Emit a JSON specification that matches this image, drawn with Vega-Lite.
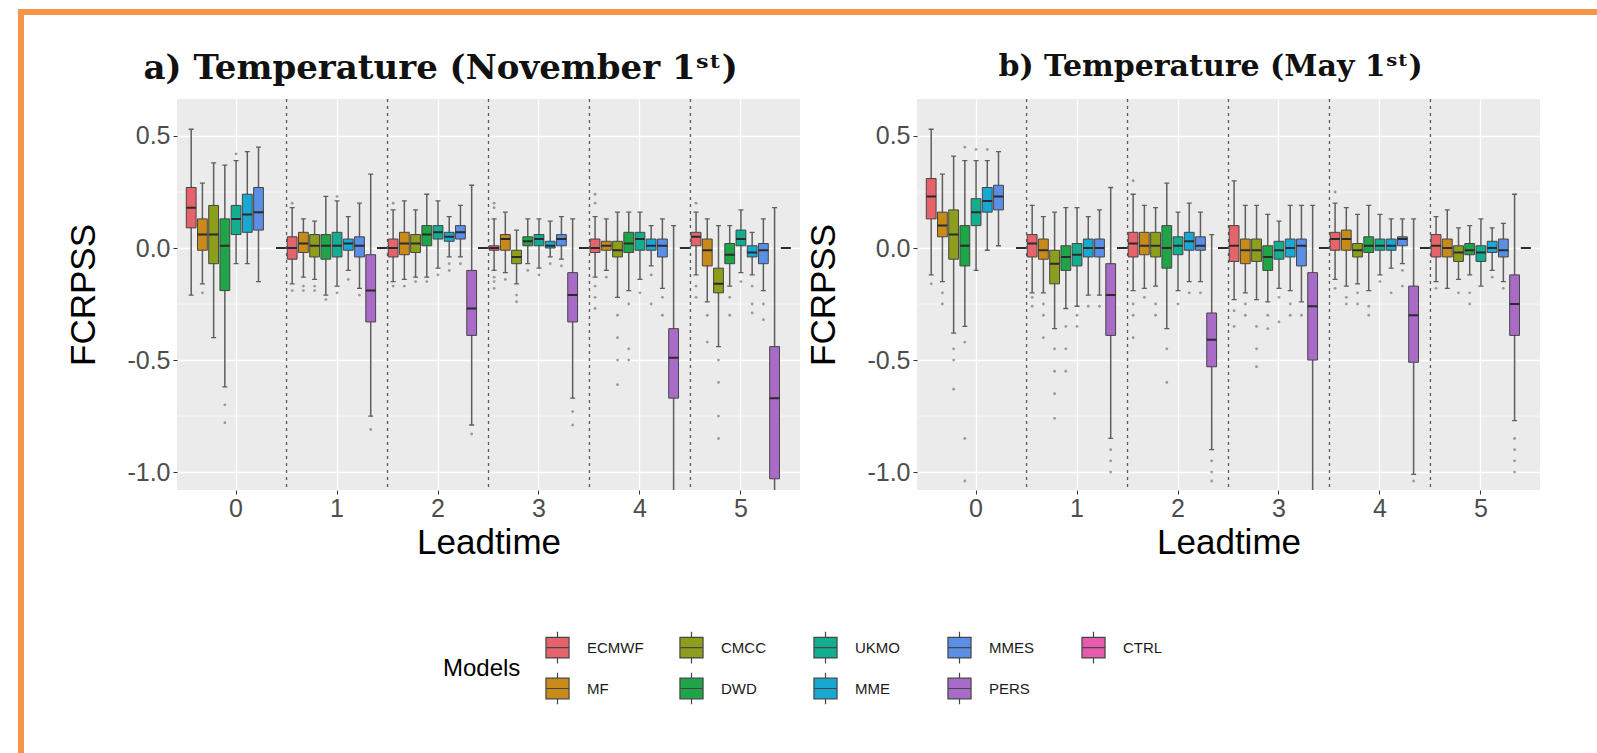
{
"$schema": "https://vega.github.io/schema/vega-lite/v6.json",
"padding": {"left": 18, "top": 9, "right": 0, "bottom": 0},
"background": "white",
"datasets": {
"boxes": [
{"p":"a","l":0,"m":"ECMWF","lo":-0.21,"q1":0.09,"md":0.18,"q3":0.27,"hi":0.53},
{"p":"a","l":0,"m":"MF","lo":-0.16,"q1":-0.01,"md":0.06,"q3":0.13,"hi":0.29},
{"p":"a","l":0,"m":"CMCC","lo":-0.40,"q1":-0.07,"md":0.06,"q3":0.19,"hi":0.38},
{"p":"a","l":0,"m":"DWD","lo":-0.62,"q1":-0.19,"md":0.01,"q3":0.13,"hi":0.37},
{"p":"a","l":0,"m":"UKMO","lo":-0.07,"q1":0.06,"md":0.13,"q3":0.19,"hi":0.39},
{"p":"a","l":0,"m":"MME","lo":-0.07,"q1":0.07,"md":0.15,"q3":0.24,"hi":0.43},
{"p":"a","l":0,"m":"MMES","lo":-0.15,"q1":0.08,"md":0.16,"q3":0.27,"hi":0.45},
{"p":"a","l":0,"m":"CTRL","lo":0,"q1":0,"md":0,"q3":0,"hi":0},
{"p":"a","l":1,"m":"ECMWF","lo":-0.16,"q1":-0.05,"md":0.0,"q3":0.05,"hi":0.18},
{"p":"a","l":1,"m":"MF","lo":-0.13,"q1":-0.02,"md":0.02,"q3":0.07,"hi":0.13},
{"p":"a","l":1,"m":"CMCC","lo":-0.14,"q1":-0.04,"md":0.01,"q3":0.06,"hi":0.12},
{"p":"a","l":1,"m":"DWD","lo":-0.21,"q1":-0.05,"md":0.01,"q3":0.06,"hi":0.23},
{"p":"a","l":1,"m":"UKMO","lo":-0.17,"q1":-0.04,"md":0.01,"q3":0.07,"hi":0.21},
{"p":"a","l":1,"m":"MME","lo":-0.10,"q1":-0.01,"md":0.02,"q3":0.04,"hi":0.14},
{"p":"a","l":1,"m":"MMES","lo":-0.18,"q1":-0.04,"md":0.01,"q3":0.05,"hi":0.20},
{"p":"a","l":1,"m":"PERS","lo":-0.75,"q1":-0.33,"md":-0.19,"q3":-0.03,"hi":0.33},
{"p":"a","l":1,"m":"CTRL","lo":0,"q1":0,"md":0,"q3":0,"hi":0},
{"p":"a","l":2,"m":"ECMWF","lo":-0.15,"q1":-0.04,"md":0.0,"q3":0.04,"hi":0.17},
{"p":"a","l":2,"m":"MF","lo":-0.14,"q1":-0.03,"md":0.02,"q3":0.07,"hi":0.21},
{"p":"a","l":2,"m":"CMCC","lo":-0.13,"q1":-0.02,"md":0.02,"q3":0.06,"hi":0.17},
{"p":"a","l":2,"m":"DWD","lo":-0.13,"q1":0.01,"md":0.06,"q3":0.10,"hi":0.24},
{"p":"a","l":2,"m":"UKMO","lo":-0.09,"q1":0.04,"md":0.07,"q3":0.10,"hi":0.21},
{"p":"a","l":2,"m":"MME","lo":-0.04,"q1":0.03,"md":0.05,"q3":0.07,"hi":0.14},
{"p":"a","l":2,"m":"MMES","lo":-0.04,"q1":0.04,"md":0.07,"q3":0.10,"hi":0.19},
{"p":"a","l":2,"m":"PERS","lo":-0.79,"q1":-0.39,"md":-0.27,"q3":-0.10,"hi":0.28},
{"p":"a","l":2,"m":"CTRL","lo":0,"q1":0,"md":0,"q3":0,"hi":0},
{"p":"a","l":3,"m":"ECMWF","lo":-0.10,"q1":-0.01,"md":0.0,"q3":0.01,"hi":0.13},
{"p":"a","l":3,"m":"MF","lo":-0.11,"q1":-0.01,"md":0.04,"q3":0.06,"hi":0.16},
{"p":"a","l":3,"m":"CMCC","lo":-0.16,"q1":-0.07,"md":-0.04,"q3":-0.01,"hi":0.08},
{"p":"a","l":3,"m":"DWD","lo":-0.07,"q1":0.01,"md":0.03,"q3":0.05,"hi":0.13},
{"p":"a","l":3,"m":"UKMO","lo":-0.09,"q1":0.01,"md":0.04,"q3":0.06,"hi":0.13},
{"p":"a","l":3,"m":"MME","lo":-0.04,"q1":0.0,"md":0.01,"q3":0.03,"hi":0.12},
{"p":"a","l":3,"m":"MMES","lo":-0.05,"q1":0.01,"md":0.04,"q3":0.06,"hi":0.14},
{"p":"a","l":3,"m":"PERS","lo":-0.67,"q1":-0.33,"md":-0.21,"q3":-0.11,"hi":0.13},
{"p":"a","l":3,"m":"CTRL","lo":0,"q1":0,"md":0,"q3":0,"hi":0},
{"p":"a","l":4,"m":"ECMWF","lo":-0.13,"q1":-0.02,"md":0.0,"q3":0.04,"hi":0.14},
{"p":"a","l":4,"m":"MF","lo":-0.10,"q1":-0.01,"md":0.01,"q3":0.03,"hi":0.13},
{"p":"a","l":4,"m":"CMCC","lo":-0.22,"q1":-0.04,"md":-0.01,"q3":0.03,"hi":0.16},
{"p":"a","l":4,"m":"DWD","lo":-0.19,"q1":-0.02,"md":0.02,"q3":0.07,"hi":0.16},
{"p":"a","l":4,"m":"UKMO","lo":-0.14,"q1":-0.01,"md":0.04,"q3":0.07,"hi":0.16},
{"p":"a","l":4,"m":"MME","lo":-0.08,"q1":-0.01,"md":0.01,"q3":0.04,"hi":0.10},
{"p":"a","l":4,"m":"MMES","lo":-0.18,"q1":-0.04,"md":0.01,"q3":0.04,"hi":0.13},
{"p":"a","l":4,"m":"PERS","lo":-1.12,"q1":-0.67,"md":-0.49,"q3":-0.36,"hi":0.10},
{"p":"a","l":4,"m":"CTRL","lo":0,"q1":0,"md":0,"q3":0,"hi":0},
{"p":"a","l":5,"m":"ECMWF","lo":-0.12,"q1":0.01,"md":0.05,"q3":0.07,"hi":0.16},
{"p":"a","l":5,"m":"MF","lo":-0.24,"q1":-0.08,"md":-0.01,"q3":0.04,"hi":0.13},
{"p":"a","l":5,"m":"CMCC","lo":-0.44,"q1":-0.20,"md":-0.16,"q3":-0.09,"hi":0.10},
{"p":"a","l":5,"m":"DWD","lo":-0.17,"q1":-0.07,"md":-0.03,"q3":0.02,"hi":0.10},
{"p":"a","l":5,"m":"UKMO","lo":-0.11,"q1":0.01,"md":0.04,"q3":0.08,"hi":0.17},
{"p":"a","l":5,"m":"MME","lo":-0.12,"q1":-0.04,"md":-0.02,"q3":0.01,"hi":0.07},
{"p":"a","l":5,"m":"MMES","lo":-0.19,"q1":-0.07,"md":-0.01,"q3":0.02,"hi":0.13},
{"p":"a","l":5,"m":"PERS","lo":-1.15,"q1":-1.03,"md":-0.67,"q3":-0.44,"hi":0.18},
{"p":"a","l":5,"m":"CTRL","lo":0,"q1":0,"md":0,"q3":0,"hi":0},
{"p":"b","l":0,"m":"ECMWF","lo":-0.12,"q1":0.13,"md":0.23,"q3":0.31,"hi":0.53},
{"p":"b","l":0,"m":"MF","lo":-0.15,"q1":0.05,"md":0.10,"q3":0.16,"hi":0.33},
{"p":"b","l":0,"m":"CMCC","lo":-0.38,"q1":-0.05,"md":0.06,"q3":0.17,"hi":0.41},
{"p":"b","l":0,"m":"DWD","lo":-0.35,"q1":-0.08,"md":0.01,"q3":0.10,"hi":0.39},
{"p":"b","l":0,"m":"UKMO","lo":-0.10,"q1":0.10,"md":0.16,"q3":0.22,"hi":0.39},
{"p":"b","l":0,"m":"MME","lo":-0.01,"q1":0.16,"md":0.21,"q3":0.27,"hi":0.39},
{"p":"b","l":0,"m":"MMES","lo":0.01,"q1":0.17,"md":0.23,"q3":0.28,"hi":0.43},
{"p":"b","l":0,"m":"CTRL","lo":0,"q1":0,"md":0,"q3":0,"hi":0},
{"p":"b","l":1,"m":"ECMWF","lo":-0.20,"q1":-0.04,"md":0.02,"q3":0.06,"hi":0.19},
{"p":"b","l":1,"m":"MF","lo":-0.20,"q1":-0.05,"md":-0.01,"q3":0.04,"hi":0.14},
{"p":"b","l":1,"m":"CMCC","lo":-0.36,"q1":-0.16,"md":-0.07,"q3":-0.01,"hi":0.16},
{"p":"b","l":1,"m":"DWD","lo":-0.27,"q1":-0.10,"md":-0.04,"q3":0.01,"hi":0.18},
{"p":"b","l":1,"m":"UKMO","lo":-0.26,"q1":-0.08,"md":-0.03,"q3":0.02,"hi":0.18},
{"p":"b","l":1,"m":"MME","lo":-0.21,"q1":-0.04,"md":0.0,"q3":0.04,"hi":0.14},
{"p":"b","l":1,"m":"MMES","lo":-0.21,"q1":-0.04,"md":0.0,"q3":0.04,"hi":0.17},
{"p":"b","l":1,"m":"PERS","lo":-0.85,"q1":-0.39,"md":-0.21,"q3":-0.07,"hi":0.27},
{"p":"b","l":1,"m":"CTRL","lo":0,"q1":0,"md":0,"q3":0,"hi":0},
{"p":"b","l":2,"m":"ECMWF","lo":-0.19,"q1":-0.04,"md":0.02,"q3":0.07,"hi":0.24},
{"p":"b","l":2,"m":"MF","lo":-0.18,"q1":-0.03,"md":0.01,"q3":0.07,"hi":0.19},
{"p":"b","l":2,"m":"CMCC","lo":-0.17,"q1":-0.04,"md":0.01,"q3":0.07,"hi":0.18},
{"p":"b","l":2,"m":"DWD","lo":-0.36,"q1":-0.09,"md":0.0,"q3":0.10,"hi":0.29},
{"p":"b","l":2,"m":"UKMO","lo":-0.19,"q1":-0.03,"md":0.01,"q3":0.05,"hi":0.16},
{"p":"b","l":2,"m":"MME","lo":-0.15,"q1":-0.01,"md":0.03,"q3":0.07,"hi":0.20},
{"p":"b","l":2,"m":"MMES","lo":-0.15,"q1":-0.01,"md":0.01,"q3":0.05,"hi":0.16},
{"p":"b","l":2,"m":"PERS","lo":-0.90,"q1":-0.53,"md":-0.41,"q3":-0.29,"hi":0.06},
{"p":"b","l":2,"m":"CTRL","lo":0,"q1":0,"md":0,"q3":0,"hi":0},
{"p":"b","l":3,"m":"ECMWF","lo":-0.23,"q1":-0.06,"md":0.01,"q3":0.10,"hi":0.30},
{"p":"b","l":3,"m":"MF","lo":-0.20,"q1":-0.07,"md":-0.01,"q3":0.04,"hi":0.19},
{"p":"b","l":3,"m":"CMCC","lo":-0.23,"q1":-0.06,"md":-0.01,"q3":0.04,"hi":0.19},
{"p":"b","l":3,"m":"DWD","lo":-0.24,"q1":-0.10,"md":-0.04,"q3":0.01,"hi":0.15},
{"p":"b","l":3,"m":"UKMO","lo":-0.18,"q1":-0.05,"md":-0.01,"q3":0.03,"hi":0.12},
{"p":"b","l":3,"m":"MME","lo":-0.19,"q1":-0.04,"md":0.0,"q3":0.04,"hi":0.19},
{"p":"b","l":3,"m":"MMES","lo":-0.24,"q1":-0.08,"md":0.01,"q3":0.04,"hi":0.19},
{"p":"b","l":3,"m":"PERS","lo":-1.12,"q1":-0.50,"md":-0.26,"q3":-0.11,"hi":0.19},
{"p":"b","l":3,"m":"CTRL","lo":0,"q1":0,"md":0,"q3":0,"hi":0},
{"p":"b","l":4,"m":"ECMWF","lo":-0.14,"q1":-0.01,"md":0.04,"q3":0.07,"hi":0.20},
{"p":"b","l":4,"m":"MF","lo":-0.17,"q1":-0.01,"md":0.04,"q3":0.08,"hi":0.18},
{"p":"b","l":4,"m":"CMCC","lo":-0.16,"q1":-0.04,"md":-0.01,"q3":0.02,"hi":0.15},
{"p":"b","l":4,"m":"DWD","lo":-0.19,"q1":-0.02,"md":0.01,"q3":0.05,"hi":0.19},
{"p":"b","l":4,"m":"UKMO","lo":-0.12,"q1":-0.01,"md":0.01,"q3":0.04,"hi":0.15},
{"p":"b","l":4,"m":"MME","lo":-0.09,"q1":-0.01,"md":0.01,"q3":0.04,"hi":0.13},
{"p":"b","l":4,"m":"MMES","lo":-0.07,"q1":0.01,"md":0.04,"q3":0.05,"hi":0.13},
{"p":"b","l":4,"m":"PERS","lo":-1.01,"q1":-0.51,"md":-0.30,"q3":-0.17,"hi":0.13},
{"p":"b","l":4,"m":"CTRL","lo":0,"q1":0,"md":0,"q3":0,"hi":0},
{"p":"b","l":5,"m":"ECMWF","lo":-0.15,"q1":-0.04,"md":0.01,"q3":0.06,"hi":0.14},
{"p":"b","l":5,"m":"MF","lo":-0.18,"q1":-0.04,"md":0.0,"q3":0.04,"hi":0.17},
{"p":"b","l":5,"m":"CMCC","lo":-0.14,"q1":-0.06,"md":-0.02,"q3":0.01,"hi":0.09},
{"p":"b","l":5,"m":"DWD","lo":-0.12,"q1":-0.03,"md":-0.01,"q3":0.02,"hi":0.10},
{"p":"b","l":5,"m":"UKMO","lo":-0.17,"q1":-0.06,"md":-0.02,"q3":0.01,"hi":0.13},
{"p":"b","l":5,"m":"MME","lo":-0.10,"q1":-0.02,"md":0.0,"q3":0.03,"hi":0.09},
{"p":"b","l":5,"m":"MMES","lo":-0.15,"q1":-0.04,"md":-0.01,"q3":0.04,"hi":0.11},
{"p":"b","l":5,"m":"PERS","lo":-0.77,"q1":-0.39,"md":-0.25,"q3":-0.12,"hi":0.24},
{"p":"b","l":5,"m":"CTRL","lo":0,"q1":0,"md":0,"q3":0,"hi":0}
],
"outliers": [
{"p":"a","l":0,"m":"MF","v":-0.20},{"p":"a","l":0,"m":"DWD","v":-0.70},{"p":"a","l":0,"m":"DWD","v":-0.78},{"p":"a","l":0,"m":"UKMO","v":0.42},
{"p":"a","l":1,"m":"ECMWF","v":0.20},{"p":"a","l":1,"m":"ECMWF","v":-0.19},{"p":"a","l":1,"m":"MF","v":-0.17},{"p":"a","l":1,"m":"MF","v":-0.19},{"p":"a","l":1,"m":"CMCC","v":-0.17},{"p":"a","l":1,"m":"CMCC","v":-0.19},{"p":"a","l":1,"m":"DWD","v":-0.23},{"p":"a","l":1,"m":"UKMO","v":0.23},{"p":"a","l":1,"m":"UKMO","v":-0.20},{"p":"a","l":1,"m":"MME","v":-0.14},{"p":"a","l":1,"m":"MMES","v":-0.21},{"p":"a","l":1,"m":"PERS","v":-0.81},
{"p":"a","l":2,"m":"ECMWF","v":0.20},{"p":"a","l":2,"m":"ECMWF","v":-0.17},{"p":"a","l":2,"m":"MF","v":-0.17},{"p":"a","l":2,"m":"CMCC","v":-0.15},{"p":"a","l":2,"m":"DWD","v":-0.15},{"p":"a","l":2,"m":"UKMO","v":-0.12},{"p":"a","l":2,"m":"MME","v":-0.07},{"p":"a","l":2,"m":"MME","v":-0.10},{"p":"a","l":2,"m":"MMES","v":-0.07},{"p":"a","l":2,"m":"PERS","v":-0.83},
{"p":"a","l":3,"m":"ECMWF","v":0.18},{"p":"a","l":3,"m":"ECMWF","v":0.20},{"p":"a","l":3,"m":"ECMWF","v":-0.13},{"p":"a","l":3,"m":"ECMWF","v":-0.15},{"p":"a","l":3,"m":"ECMWF","v":-0.18},{"p":"a","l":3,"m":"MF","v":-0.14},{"p":"a","l":3,"m":"CMCC","v":-0.21},{"p":"a","l":3,"m":"CMCC","v":-0.24},{"p":"a","l":3,"m":"DWD","v":-0.10},{"p":"a","l":3,"m":"UKMO","v":-0.12},{"p":"a","l":3,"m":"MME","v":-0.07},{"p":"a","l":3,"m":"MMES","v":-0.08},{"p":"a","l":3,"m":"PERS","v":-0.73},{"p":"a","l":3,"m":"PERS","v":-0.79},
{"p":"a","l":4,"m":"ECMWF","v":0.20},{"p":"a","l":4,"m":"ECMWF","v":0.24},{"p":"a","l":4,"m":"ECMWF","v":-0.17},{"p":"a","l":4,"m":"ECMWF","v":-0.22},{"p":"a","l":4,"m":"ECMWF","v":-0.27},{"p":"a","l":4,"m":"MF","v":-0.13},{"p":"a","l":4,"m":"CMCC","v":-0.30},{"p":"a","l":4,"m":"CMCC","v":-0.40},{"p":"a","l":4,"m":"CMCC","v":-0.50},{"p":"a","l":4,"m":"CMCC","v":-0.61},{"p":"a","l":4,"m":"DWD","v":-0.25},{"p":"a","l":4,"m":"DWD","v":-0.45},{"p":"a","l":4,"m":"DWD","v":-0.50},{"p":"a","l":4,"m":"UKMO","v":-0.20},{"p":"a","l":4,"m":"MME","v":-0.12},{"p":"a","l":4,"m":"MME","v":-0.25},{"p":"a","l":4,"m":"MMES","v":-0.22},{"p":"a","l":4,"m":"MMES","v":-0.30},
{"p":"a","l":5,"m":"ECMWF","v":0.20},{"p":"a","l":5,"m":"ECMWF","v":-0.17},{"p":"a","l":5,"m":"ECMWF","v":-0.22},{"p":"a","l":5,"m":"MF","v":-0.30},{"p":"a","l":5,"m":"MF","v":-0.42},{"p":"a","l":5,"m":"CMCC","v":-0.50},{"p":"a","l":5,"m":"CMCC","v":-0.60},{"p":"a","l":5,"m":"CMCC","v":-0.75},{"p":"a","l":5,"m":"CMCC","v":-0.85},{"p":"a","l":5,"m":"DWD","v":-0.22},{"p":"a","l":5,"m":"DWD","v":-0.30},{"p":"a","l":5,"m":"UKMO","v":-0.15},{"p":"a","l":5,"m":"MME","v":-0.17},{"p":"a","l":5,"m":"MME","v":-0.25},{"p":"a","l":5,"m":"MME","v":-0.29},{"p":"a","l":5,"m":"MMES","v":-0.25},{"p":"a","l":5,"m":"MMES","v":-0.32},
{"p":"b","l":0,"m":"ECMWF","v":-0.16},{"p":"b","l":0,"m":"MF","v":-0.20},{"p":"b","l":0,"m":"MF","v":-0.25},{"p":"b","l":0,"m":"CMCC","v":-0.45},{"p":"b","l":0,"m":"CMCC","v":-0.50},{"p":"b","l":0,"m":"CMCC","v":-0.63},{"p":"b","l":0,"m":"DWD","v":0.45},{"p":"b","l":0,"m":"DWD","v":-0.42},{"p":"b","l":0,"m":"DWD","v":-0.85},{"p":"b","l":0,"m":"DWD","v":-1.04},{"p":"b","l":0,"m":"UKMO","v":0.44},{"p":"b","l":0,"m":"MME","v":0.44},
{"p":"b","l":1,"m":"ECMWF","v":-0.22},{"p":"b","l":1,"m":"ECMWF","v":-0.26},{"p":"b","l":1,"m":"MF","v":-0.25},{"p":"b","l":1,"m":"MF","v":-0.30},{"p":"b","l":1,"m":"MF","v":-0.40},{"p":"b","l":1,"m":"CMCC","v":-0.45},{"p":"b","l":1,"m":"CMCC","v":-0.55},{"p":"b","l":1,"m":"CMCC","v":-0.65},{"p":"b","l":1,"m":"CMCC","v":-0.76},{"p":"b","l":1,"m":"DWD","v":-0.35},{"p":"b","l":1,"m":"DWD","v":-0.45},{"p":"b","l":1,"m":"DWD","v":-0.55},{"p":"b","l":1,"m":"UKMO","v":-0.30},{"p":"b","l":1,"m":"UKMO","v":-0.35},{"p":"b","l":1,"m":"MME","v":-0.26},{"p":"b","l":1,"m":"MMES","v":-0.26},{"p":"b","l":1,"m":"PERS","v":-0.90},{"p":"b","l":1,"m":"PERS","v":-0.95},{"p":"b","l":1,"m":"PERS","v":-1.00},
{"p":"b","l":2,"m":"ECMWF","v":0.30},{"p":"b","l":2,"m":"ECMWF","v":-0.25},{"p":"b","l":2,"m":"ECMWF","v":-0.30},{"p":"b","l":2,"m":"ECMWF","v":-0.40},{"p":"b","l":2,"m":"MF","v":-0.22},{"p":"b","l":2,"m":"CMCC","v":-0.25},{"p":"b","l":2,"m":"CMCC","v":-0.30},{"p":"b","l":2,"m":"DWD","v":-0.45},{"p":"b","l":2,"m":"DWD","v":-0.60},{"p":"b","l":2,"m":"UKMO","v":-0.25},{"p":"b","l":2,"m":"MME","v":-0.20},{"p":"b","l":2,"m":"MMES","v":-0.20},{"p":"b","l":2,"m":"PERS","v":-0.95},{"p":"b","l":2,"m":"PERS","v":-1.00},{"p":"b","l":2,"m":"PERS","v":-1.04},
{"p":"b","l":3,"m":"ECMWF","v":-0.28},{"p":"b","l":3,"m":"ECMWF","v":-0.35},{"p":"b","l":3,"m":"MF","v":-0.25},{"p":"b","l":3,"m":"MF","v":-0.30},{"p":"b","l":3,"m":"CMCC","v":-0.35},{"p":"b","l":3,"m":"CMCC","v":-0.45},{"p":"b","l":3,"m":"CMCC","v":-0.53},{"p":"b","l":3,"m":"DWD","v":-0.30},{"p":"b","l":3,"m":"DWD","v":-0.36},{"p":"b","l":3,"m":"UKMO","v":-0.22},{"p":"b","l":3,"m":"UKMO","v":-0.33},{"p":"b","l":3,"m":"MME","v":-0.25},{"p":"b","l":3,"m":"MME","v":-0.30},{"p":"b","l":3,"m":"MMES","v":-0.30},
{"p":"b","l":4,"m":"ECMWF","v":0.25},{"p":"b","l":4,"m":"ECMWF","v":-0.18},{"p":"b","l":4,"m":"MF","v":-0.22},{"p":"b","l":4,"m":"MF","v":-0.25},{"p":"b","l":4,"m":"CMCC","v":-0.20},{"p":"b","l":4,"m":"CMCC","v":-0.25},{"p":"b","l":4,"m":"DWD","v":-0.26},{"p":"b","l":4,"m":"DWD","v":-0.30},{"p":"b","l":4,"m":"UKMO","v":-0.15},{"p":"b","l":4,"m":"MME","v":-0.20},{"p":"b","l":4,"m":"MMES","v":-0.10},{"p":"b","l":4,"m":"MMES","v":-0.17},{"p":"b","l":4,"m":"PERS","v":-1.04},
{"p":"b","l":5,"m":"ECMWF","v":-0.18},{"p":"b","l":5,"m":"CMCC","v":-0.20},{"p":"b","l":5,"m":"DWD","v":-0.20},{"p":"b","l":5,"m":"DWD","v":-0.25},{"p":"b","l":5,"m":"MME","v":-0.13},{"p":"b","l":5,"m":"MMES","v":-0.18},{"p":"b","l":5,"m":"PERS","v":-0.85},{"p":"b","l":5,"m":"PERS","v":-0.90},{"p":"b","l":5,"m":"PERS","v":-0.95},{"p":"b","l":5,"m":"PERS","v":-1.00}
],
"seps": [{"l":1},{"l":2},{"l":3},{"l":4},{"l":5}],
"minor": [{"g":-0.75},{"g":-0.25},{"g":0.25}],
"blank": [{"k":1}]
},
"hconcat": [
{"width": 6, "height": 744, "view": {"fill": "#F5964A", "stroke": null}, "data": {"name": "blank"}, "mark": {"type": "point", "opacity": 0}, "encoding": {}},
{"vconcat": [
 {"width": 1573, "height": 6, "view": {"fill": "#F5964A", "stroke": null}, "data": {"name": "blank"}, "mark": {"type": "point", "opacity": 0}, "encoding": {}},
 {"hconcat": [
  {"width": 37, "height": 10, "view": {"stroke": null}, "data": {"name": "blank"}, "mark": {"type": "point", "opacity": 0}, "encoding": {}},
  {"width": 623, "height": 391,
   "title": {"text": "a) Temperature (November 1ˢᵗ)", "font": "DejaVu Serif", "fontSize": 34, "fontWeight": "bold", "color": "#111111", "anchor": "middle", "frame": "bounds", "offset": 12, "dx": 7},
   "view": {"fill": "#EBEBEB", "stroke": null},
   "layer": [
    {"data": {"name": "minor"}, "mark": {"type": "rule", "color": "#FFFFFF", "strokeWidth": 0.6},
     "encoding": {"y": {"field": "g", "type": "quantitative", "title": "FCRPSS", "scale": {"domain": [-1.08, 0.665], "nice": false, "zero": false}, "axis": {"values": [-1, -0.5, 0, 0.5], "labelExpr": "replace(format(datum.value, '.1f'), '\u2212', '-')", "grid": true}}}},
    {"data": {"name": "seps"}, "mark": {"type": "rule", "color": "#5A5A5A", "strokeWidth": 1.3, "strokeDash": [3, 4]},
     "encoding": {"x": {"field": "l", "type": "ordinal", "bandPosition": 0, "title": "Leadtime", "scale": {"domain": [0, 1, 2, 3, 4, 5], "paddingInner": 0, "paddingOuter": 0.085}, "axis": {"grid": true, "bandPosition": 0.5}}}},
    {"data": {"name": "boxes"}, "transform": [{"filter": "datum.p == 'a'"}], "mark": {"type": "bar", "color": "#5E5E5E", "width": 1.5, "clip": true},
     "encoding": {"x": {"field": "l", "type": "ordinal", "title": "Leadtime"}, "xOffset": {"field": "m", "type": "nominal", "scale": {"type": "point", "domain": ["ECMWF", "MF", "CMCC", "DWD", "UKMO", "MME", "MMES", "PERS", "CTRL"], "padding": 0.5}}, "y": {"field": "lo", "type": "quantitative", "title": "FCRPSS"}, "y2": {"field": "hi"}}},
    {"data": {"name": "boxes"}, "transform": [{"filter": "datum.p == 'a'"}], "mark": {"type": "bar", "fill": null, "stroke": "#5E5E5E", "strokeWidth": 1.3, "width": 5, "clip": true},
     "encoding": {"x": {"field": "l", "type": "ordinal", "title": "Leadtime"}, "xOffset": {"field": "m", "type": "nominal"}, "y": {"field": "lo", "type": "quantitative", "title": "FCRPSS"}, "y2": {"field": "lo"}}},
    {"data": {"name": "boxes"}, "transform": [{"filter": "datum.p == 'a'"}], "mark": {"type": "bar", "fill": null, "stroke": "#5E5E5E", "strokeWidth": 1.3, "width": 5, "clip": true},
     "encoding": {"x": {"field": "l", "type": "ordinal", "title": "Leadtime"}, "xOffset": {"field": "m", "type": "nominal"}, "y": {"field": "hi", "type": "quantitative", "title": "FCRPSS"}, "y2": {"field": "hi"}}},
    {"data": {"name": "outliers"}, "transform": [{"filter": "datum.p == 'a'"}], "mark": {"type": "circle", "size": 8, "color": "#555555", "opacity": 0.55, "clip": true},
     "encoding": {"x": {"field": "l", "type": "ordinal", "title": "Leadtime"}, "xOffset": {"field": "m", "type": "nominal"}, "y": {"field": "v", "type": "quantitative", "title": "FCRPSS"}}},
    {"data": {"name": "boxes"}, "transform": [{"filter": "datum.p == 'a'"}], "mark": {"type": "bar", "stroke": "#454545", "strokeWidth": 1, "width": 9.8, "clip": true},
     "encoding": {"x": {"field": "l", "type": "ordinal", "title": "Leadtime"}, "xOffset": {"field": "m", "type": "nominal"}, "y": {"field": "q1", "type": "quantitative", "title": "FCRPSS"}, "y2": {"field": "q3"},
      "color": {"field": "m", "type": "nominal", "title": "Models", "scale": {"domain": ["ECMWF", "CMCC", "UKMO", "MMES", "CTRL", "MF", "DWD", "MME", "PERS"], "range": ["#E5636B", "#8C9E1C", "#13AD90", "#5B8EE6", "#E85AAE", "#C88B1A", "#1FA547", "#17A8D4", "#A86CC8"]}}}},
    {"data": {"name": "boxes"}, "transform": [{"filter": "datum.p == 'a'"}], "mark": {"type": "bar", "fill": null, "stroke": "#2B2B2B", "strokeWidth": 2, "width": 9.8, "clip": true},
     "encoding": {"x": {"field": "l", "type": "ordinal", "title": "Leadtime"}, "xOffset": {"field": "m", "type": "nominal"}, "y": {"field": "md", "type": "quantitative", "title": "FCRPSS"}, "y2": {"field": "md"}}}
   ]},
  {"width": 623, "height": 391,
   "title": {"text": "b) Temperature (May 1ˢᵗ)", "font": "DejaVu Serif", "fontSize": 30, "fontWeight": "bold", "color": "#111111", "anchor": "middle", "frame": "bounds", "offset": 16, "dx": 37},
   "view": {"fill": "#EBEBEB", "stroke": null},
   "layer": [
    {"data": {"name": "minor"}, "mark": {"type": "rule", "color": "#FFFFFF", "strokeWidth": 0.6},
     "encoding": {"y": {"field": "g", "type": "quantitative", "title": "FCRPSS", "scale": {"domain": [-1.08, 0.665], "nice": false, "zero": false}, "axis": {"values": [-1, -0.5, 0, 0.5], "labelExpr": "replace(format(datum.value, '.1f'), '\u2212', '-')", "grid": true}}}},
    {"data": {"name": "seps"}, "mark": {"type": "rule", "color": "#5A5A5A", "strokeWidth": 1.3, "strokeDash": [3, 4]},
     "encoding": {"x": {"field": "l", "type": "ordinal", "bandPosition": 0, "title": "Leadtime", "scale": {"domain": [0, 1, 2, 3, 4, 5], "paddingInner": 0, "paddingOuter": 0.085}, "axis": {"grid": true, "bandPosition": 0.5}}}},
    {"data": {"name": "boxes"}, "transform": [{"filter": "datum.p == 'b'"}], "mark": {"type": "bar", "color": "#5E5E5E", "width": 1.5, "clip": true},
     "encoding": {"x": {"field": "l", "type": "ordinal", "title": "Leadtime"}, "xOffset": {"field": "m", "type": "nominal", "scale": {"type": "point", "domain": ["ECMWF", "MF", "CMCC", "DWD", "UKMO", "MME", "MMES", "PERS", "CTRL"], "padding": 0.5}}, "y": {"field": "lo", "type": "quantitative", "title": "FCRPSS"}, "y2": {"field": "hi"}}},
    {"data": {"name": "boxes"}, "transform": [{"filter": "datum.p == 'b'"}], "mark": {"type": "bar", "fill": null, "stroke": "#5E5E5E", "strokeWidth": 1.3, "width": 5, "clip": true},
     "encoding": {"x": {"field": "l", "type": "ordinal", "title": "Leadtime"}, "xOffset": {"field": "m", "type": "nominal"}, "y": {"field": "lo", "type": "quantitative", "title": "FCRPSS"}, "y2": {"field": "lo"}}},
    {"data": {"name": "boxes"}, "transform": [{"filter": "datum.p == 'b'"}], "mark": {"type": "bar", "fill": null, "stroke": "#5E5E5E", "strokeWidth": 1.3, "width": 5, "clip": true},
     "encoding": {"x": {"field": "l", "type": "ordinal", "title": "Leadtime"}, "xOffset": {"field": "m", "type": "nominal"}, "y": {"field": "hi", "type": "quantitative", "title": "FCRPSS"}, "y2": {"field": "hi"}}},
    {"data": {"name": "outliers"}, "transform": [{"filter": "datum.p == 'b'"}], "mark": {"type": "circle", "size": 8, "color": "#555555", "opacity": 0.55, "clip": true},
     "encoding": {"x": {"field": "l", "type": "ordinal", "title": "Leadtime"}, "xOffset": {"field": "m", "type": "nominal"}, "y": {"field": "v", "type": "quantitative", "title": "FCRPSS"}}},
    {"data": {"name": "boxes"}, "transform": [{"filter": "datum.p == 'b'"}], "mark": {"type": "bar", "stroke": "#454545", "strokeWidth": 1, "width": 9.8, "clip": true},
     "encoding": {"x": {"field": "l", "type": "ordinal", "title": "Leadtime"}, "xOffset": {"field": "m", "type": "nominal"}, "y": {"field": "q1", "type": "quantitative", "title": "FCRPSS"}, "y2": {"field": "q3"},
      "color": {"field": "m", "type": "nominal", "title": "Models"}}},
    {"data": {"name": "boxes"}, "transform": [{"filter": "datum.p == 'b'"}], "mark": {"type": "bar", "fill": null, "stroke": "#2B2B2B", "strokeWidth": 2, "width": 9.8, "clip": true},
     "encoding": {"x": {"field": "l", "type": "ordinal", "title": "Leadtime"}, "xOffset": {"field": "m", "type": "nominal"}, "y": {"field": "md", "type": "quantitative", "title": "FCRPSS"}, "y2": {"field": "md"}}}
   ]}
 ], "spacing": 5}
], "spacing": 37}
],
"spacing": 0,
"config": {
 "font": "Liberation Sans",
 "view": {"stroke": null},
 "axis": {"labelFont": "Liberation Sans", "titleFont": "Liberation Sans", "labelColor": "#4D4D4D", "labelFontSize": 25, "titleFontSize": 35, "titleFontWeight": "normal", "titleColor": "#000000", "tickColor": "#333333", "tickSize": 4, "domain": false, "gridColor": "#FFFFFF", "gridWidth": 1.3},
 "axisX": {"labelAngle": 0, "titlePadding": 4, "labelPadding": 2},
 "axisY": {"titlePadding": 25, "labelPadding": 3},
 "legend": {"orient": "none", "legendX": 425, "legendY": 622, "direction": "horizontal", "columns": 5, "gridAlign": "all", "titleOrient": "left", "titleAnchor": "middle", "titleFont": "Liberation Sans", "titleFontSize": 24, "titleFontWeight": "normal", "titleColor": "#000000", "titlePadding": 20, "labelFont": "Liberation Sans", "labelFontSize": 15, "labelColor": "#1A1A1A", "labelOffset": 13, "symbolType": "M-0.73,-0.65H0.73V0.65H-0.73Z M0,-1V-0.65 M0,0.65V1 M-0.73,0H0.73", "symbolSize": 1000, "symbolStrokeColor": "#454545", "symbolStrokeWidth": 1.2, "symbolOpacity": 1, "columnPadding": 31, "rowPadding": 4}
}
}
